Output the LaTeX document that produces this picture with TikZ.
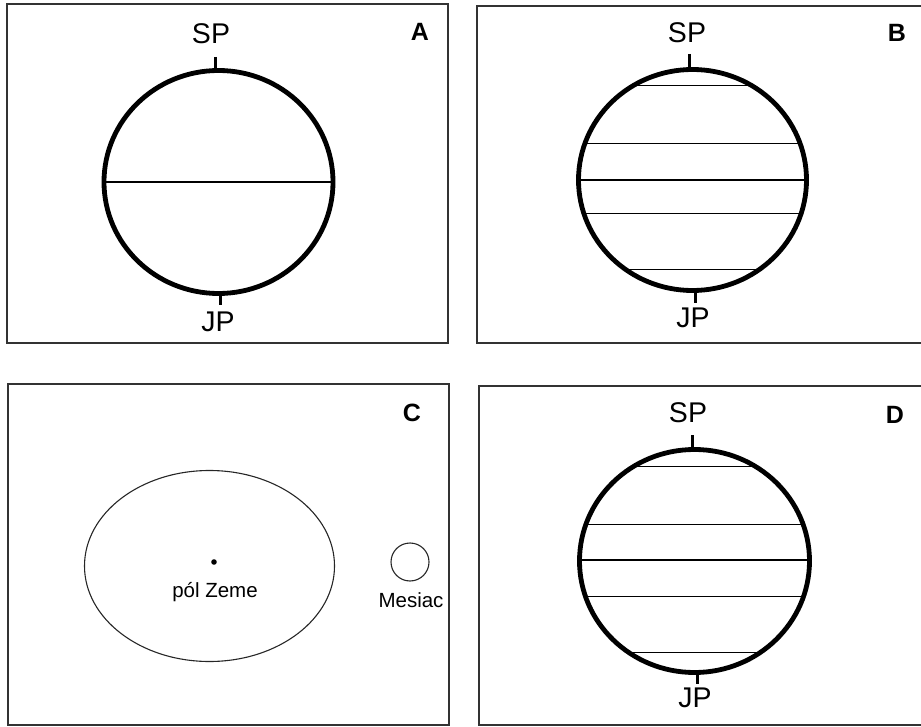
\documentclass[tikz,border=0pt]{standalone}
\usepackage{fontspec}
\setmainfont{Liberation Sans}
\begin{document}
\begin{tikzpicture}[x=1pt,y=-1pt,
  panel/.style={draw=black!80,line width=1.8pt},
  globe/.style={draw=black,line width=4.8pt},
  equator/.style={draw=black,line width=2.8pt},
  lat/.style={draw=black,line width=1pt},
  tick/.style={draw=black,line width=3pt},
  pole/.style={font=\fontsize{28.5}{32}\selectfont,inner sep=0pt},
  letter/.style={font=\fontsize{25}{30}\selectfont\bfseries,inner sep=0pt},
  small/.style={font=\fontsize{20.5}{24}\selectfont,inner sep=0pt}]
\useasboundingbox (0,0) rectangle (921,727);
% ---------- Panel A ----------
\draw[panel] (7,4) rectangle (448,343);
\coordinate (cA) at (218.5,182);
\draw[equator] (103,182) -- (334,182);
\draw[globe] (cA) ellipse [x radius=114.5, y radius=111.5];
\coordinate (tA1) at (215,57); \coordinate (tA2) at (215,70);
\coordinate (bA1) at (220,294); \coordinate (bA2) at (220,305);
\draw[tick] (tA1) -- (tA2);
\draw[tick] (bA1) -- (bA2);
\node[pole] (spA) at (211,34) {SP};
\node[pole] (jpA) at (218,322) {JP};
\node[letter] (labA) at (420,32) {A};
% ---------- Panel B ----------
\draw[panel] (921,6) -- (477,6) -- (477,343) -- (921,343);
\coordinate (cB) at (692.5,180);
\begin{scope}
  \clip (cB) ellipse [x radius=115, y radius=111];
  \foreach \yy in {86,144,214,270} \draw[lat] (560,\yy) -- (830,\yy);
  \draw[equator] (560,180) -- (830,180);
\end{scope}
\draw[globe] (cB) ellipse [x radius=114, y radius=110.5];
\coordinate (tB1) at (689,54); \coordinate (tB2) at (689,68);
\coordinate (bB1) at (695,291); \coordinate (bB2) at (695,303);
\draw[tick] (tB1) -- (tB2);
\draw[tick] (bB1) -- (bB2);
\node[pole] (spB) at (687,33) {SP};
\node[pole] (jpB) at (693,318) {JP};
\node[letter] (labB) at (897,33) {B};
% ---------- Panel C ----------
\draw[panel] (8,384) rectangle (449,725);
\draw[black!85,line width=1.1pt] (209.5,566) ellipse [x radius=125, y radius=95.5];
\fill (214,562) circle (2.8);
\node[small] (zeme) at (215,592) {pól Zeme};
\draw[black!85,line width=1.1pt] (410,562) circle (19);
\node[small] (mesiac) at (411,600) {Mesiac};
\node[letter] (labC) at (412,413) {C};
% ---------- Panel D ----------
\draw[panel] (921,386) -- (479,386) -- (479,725) -- (921,725);
\coordinate (cD) at (694.5,561);
\begin{scope}
  \clip (cD) ellipse [x radius=115.5, y radius=112];
  \foreach \yy in {466,524,596,652} \draw[lat] (560,\yy) -- (830,\yy);
  \draw[equator] (560,560) -- (830,560);
\end{scope}
\draw[globe] (cD) ellipse [x radius=115, y radius=111.5];
\coordinate (tD1) at (692,435); \coordinate (tD2) at (692,449);
\coordinate (bD1) at (697,673); \coordinate (bD2) at (697,684);
\draw[tick] (tD1) -- (tD2);
\draw[tick] (bD1) -- (bD2);
\node[pole] (spD) at (688,413) {SP};
\node[pole] (jpD) at (695,698) {JP};
\node[letter] (labD) at (895,415) {D};
\end{tikzpicture}
\end{document}
